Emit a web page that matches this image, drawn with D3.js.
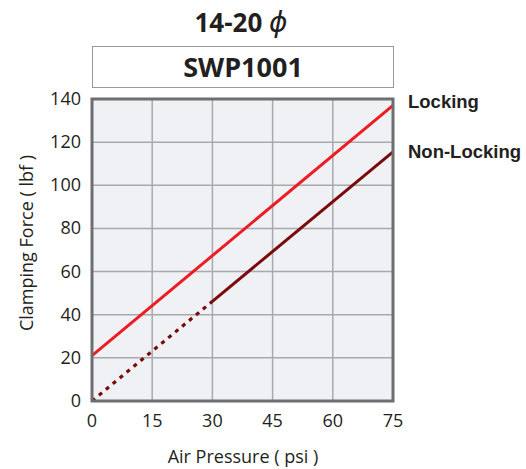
<!DOCTYPE html>
<html>
<head>
<meta charset="utf-8">
<script src="https://cdn.jsdelivr.net/npm/d3@7"></script>
<style>
  body { margin: 0; background: #fff; }
  svg { display: block; }
</style>
</head>
<body>
<script>
// chart data
const seriesNames = ["Locking", "Non-Locking"];
const pressure = [0, 75];
const locking = [21, 137];
const nonLocking = [0, 115.5];
const dashEnd = 30; // non-locking is dotted below this pressure
const xTicks = [0, 15, 30, 45, 60, 75];
const yTicks = [0, 20, 40, 60, 80, 100, 120, 140];

const W = 526, H = 469;
const plot = { left: 92, right: 393, top: 99, bottom: 401 };

const svg = d3.select('body').append('svg')
  .attr('width', W).attr('height', H);

const x = d3.scaleLinear().domain([0, 75]).range([plot.left, plot.right]);
const y = d3.scaleLinear().domain([0, 140]).range([plot.bottom, plot.top]);

// title + model box
let title = svg.append('text')
  .attr('x', 241).attr('y', 32)
  .attr('text-anchor', 'middle')
  .style('font-family', '"Open Sans", sans-serif')
  .style('font-weight', 700)
  .style('font-size', '26px')
  .style('fill', '#231f20');
title.append('tspan').text('14-20 ');
title.append('tspan')
  .style('font-weight', 400).style('font-style', 'italic')
  .style('font-family', '"DejaVu Sans", sans-serif')
  .style('font-size', '28px')
  .text('\u03d5');

svg.append('rect')
  .attr('x', 92.5).attr('y', 46.5)
  .attr('width', 301).attr('height', 41)
  .attr('fill', '#fff').attr('stroke', '#999').attr('stroke-width', 1);

svg.append('text')
  .attr('x', 243).attr('y', 77)
  .attr('text-anchor', 'middle')
  .style('font-family', '"Open Sans", sans-serif')
  .style('font-weight', 700)
  .style('font-size', '27px')
  .style('fill', '#231f20')
  .text('SWP1001');

// plot background
svg.append('rect')
  .attr('x', plot.left).attr('y', plot.top)
  .attr('width', plot.right - plot.left).attr('height', plot.bottom - plot.top)
  .attr('fill', '#f0f1f4');

// grid
svg.append('g').selectAll('line').data(xTicks.slice(1, -1)).enter()
  .append('line')
  .attr('x1', d => x(d)).attr('x2', d => x(d))
  .attr('y1', plot.top).attr('y2', plot.bottom)
  .attr('stroke', '#a7a9ac').attr('stroke-width', 1.5);
svg.append('g').selectAll('line').data(yTicks.slice(1, -1)).enter()
  .append('line')
  .attr('y1', d => y(d)).attr('y2', d => y(d))
  .attr('x1', plot.left).attr('x2', plot.right)
  .attr('stroke', '#a7a9ac').attr('stroke-width', 1.5);

// lines
const line = d3.line().x(d => x(d[0])).y(d => y(d[1]));
const nlAt = p => nonLocking[0] + (nonLocking[1] - nonLocking[0]) * (p - pressure[0]) / (pressure[1] - pressure[0]);

svg.append('path')
  .datum([[pressure[0], locking[0]], [pressure[1], locking[1]]])
  .attr('d', line).attr('fill', 'none')
  .attr('stroke', '#ed1c24').attr('stroke-width', 3);

svg.append('path')
  .datum([[pressure[0], nonLocking[0]], [dashEnd, nlAt(dashEnd)]])
  .attr('d', line).attr('fill', 'none')
  .attr('stroke', '#7a0a0a').attr('stroke-width', 3.2)
  .attr('stroke-dasharray', '4,5');

svg.append('path')
  .datum([[dashEnd, nlAt(dashEnd)], [pressure[1], nonLocking[1]]])
  .attr('d', line).attr('fill', 'none')
  .attr('stroke', '#7a0a0a').attr('stroke-width', 3);

// frame
svg.append('rect')
  .attr('x', plot.left).attr('y', plot.top)
  .attr('width', plot.right - plot.left).attr('height', plot.bottom - plot.top)
  .attr('fill', 'none').attr('stroke', '#6d6e71').attr('stroke-width', 3);

// axes labels
const tickFont = g => g
  .style('font-family', '"Open Sans", sans-serif')
  .style('font-size', '18px')
  .style('fill', '#231f20');

svg.append('g').call(tickFont).selectAll('text').data(xTicks).enter()
  .append('text')
  .attr('x', d => x(d)).attr('y', 427)
  .attr('text-anchor', 'middle')
  .text(d => d);

svg.append('g').call(tickFont).selectAll('text').data(yTicks).enter()
  .append('text')
  .attr('x', 81).attr('y', d => y(d) + 6)
  .attr('text-anchor', 'end')
  .text(d => d);

svg.append('text')
  .attr('x', 243).attr('y', 463)
  .attr('text-anchor', 'middle')
  .call(tickFont)
  .text('Air Pressure ( psi )');

svg.append('text')
  .attr('transform', 'translate(33,' + ((plot.top + plot.bottom) / 2 - 7) + ') rotate(-90)')
  .attr('text-anchor', 'middle')
  .call(tickFont)
  .text('Clamping Force ( lbf )');

// series labels
svg.append('g').selectAll('text').data(seriesNames).enter()
  .append('text')
  .attr('x', 408)
  .attr('y', (d, i) => i == 0 ? 108 : 158)
  .style('font-family', '"Liberation Sans", Arial, sans-serif')
  .style('font-weight', 700)
  .style('font-size', '18.5px')
  .style('fill', '#231f20')
  .text(d => d);
</script>
</body>
</html>
